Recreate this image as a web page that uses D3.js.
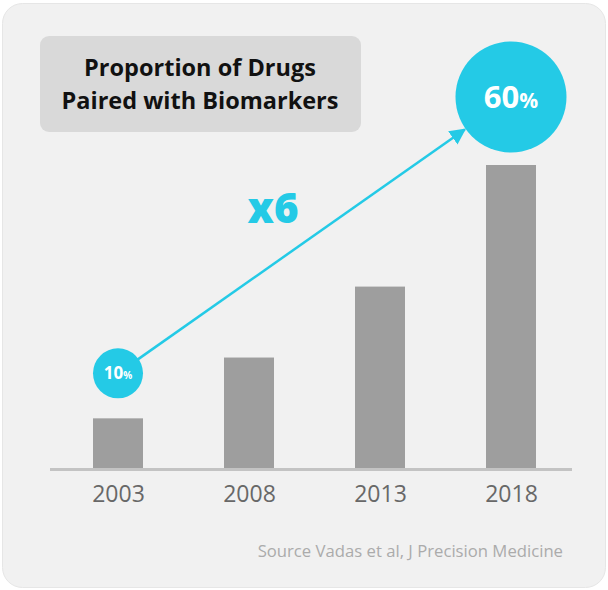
<!DOCTYPE html>
<html>
<head>
<meta charset="utf-8">
<script src="https://cdn.jsdelivr.net/npm/d3@7"></script>
<style>
  html, body { margin: 0; padding: 0; background: #ffffff; }
  svg { display: block; }
  text { font-family: "Open Sans", Lato, sans-serif; }
</style>
</head>
<body>
<svg id="chart" width="608" height="590"></svg>
<script>
// Share of approved drugs paired with a biomarker, by year
const years = ["2003", "2008", "2013", "2018"];
const shares = [10, 22, 36, 60];
const titleLines = ["Proportion of Drugs", "Paired with Biomarkers"];
const growthLabel = "x6";
const sourceNote = "Source Vadas et al, J Precision Medicine";

const cyan = "#24cae6";
const svg = d3.select("#chart");

// card background
svg.append("rect")
  .attr("x", 2.5).attr("y", 3.5)
  .attr("width", 603).attr("height", 584)
  .attr("rx", 20)
  .attr("fill", "#f1f1f1")
  .attr("stroke", "#e6e6e6")
  .attr("stroke-width", 1);

// scales
const x = d3.scalePoint().domain(years).range([52.5, 576.5]).padding(0.5);
const y = d3.scaleLinear().domain([0, 60]).range([469, 165]);
const barW = 50;

// bars
svg.append("g").selectAll("rect")
  .data(years)
  .join("rect")
  .attr("x", d => x(d) - barW / 2)
  .attr("y", (d, i) => y(shares[i]))
  .attr("width", barW)
  .attr("height", (d, i) => y(0) - y(shares[i]))
  .attr("fill", "#9e9e9e");

// baseline
svg.append("line")
  .attr("x1", 50).attr("x2", 572)
  .attr("y1", y(0) + 0.5).attr("y2", y(0) + 0.5)
  .attr("stroke", "#c3c3c3")
  .attr("stroke-width", 3);

// year labels
const axis = d3.axisBottom(x).tickSize(0).tickPadding(0);
const axisG = svg.append("g")
  .attr("transform", `translate(0,${y(0)})`)
  .call(axis);
axisG.select(".domain").remove();
axisG.selectAll("text")
  .attr("dy", null)
  .attr("y", 33)
  .attr("fill", "#686868")
  .style("font-family", "'Open Sans', sans-serif")
  .style("font-size", "23px");

// title box
svg.append("rect")
  .attr("x", 40).attr("y", 36)
  .attr("width", 321).attr("height", 96)
  .attr("rx", 9)
  .attr("fill", "#d9d9d9");
svg.append("g").selectAll("text")
  .data(titleLines)
  .join("text")
  .attr("x", 200)
  .attr("y", (d, i) => 76 + i * 33)
  .attr("text-anchor", "middle")
  .attr("fill", "#111111")
  .style("font-weight", "700")
  .style("font-size", "23.5px")
  .text(d => d);

// first and last values, highlighted in circles
const first = 0, last = years.length - 1;
const small = { cx: x(years[first]), cy: y(shares[first]) - 45, r: 25 };
const big = { cx: x(years[last]), cy: y(shares[last]) - 68, r: 55.5 };

// growth arrow between the two circles
const defs = svg.append("defs");
defs.append("marker")
  .attr("id", "arrowhead")
  .attr("viewBox", "0 0 10 10")
  .attr("refX", 9).attr("refY", 5)
  .attr("markerWidth", 6.5).attr("markerHeight", 6.5)
  .attr("markerUnits", "strokeWidth")
  .attr("orient", "auto")
  .append("path")
  .attr("d", "M0,0 L10,5 L0,10 z")
  .attr("fill", cyan);

const ang = Math.atan2(big.cy - small.cy, big.cx - small.cx);
svg.append("line")
  .attr("x1", small.cx + Math.cos(ang) * (small.r - 2))
  .attr("y1", small.cy + Math.sin(ang) * (small.r - 2))
  .attr("x2", big.cx - Math.cos(ang) * (big.r + 1))
  .attr("y2", big.cy - Math.sin(ang) * (big.r + 1))
  .attr("stroke", cyan)
  .attr("stroke-width", 2.5)
  .attr("marker-end", "url(#arrowhead)");

svg.append("circle")
  .attr("cx", small.cx).attr("cy", small.cy).attr("r", small.r)
  .attr("fill", cyan);
svg.append("circle")
  .attr("cx", big.cx).attr("cy", big.cy).attr("r", big.r)
  .attr("fill", cyan);

const smallLbl = svg.append("text")
  .attr("x", small.cx).attr("y", small.cy + 6)
  .attr("text-anchor", "middle")
  .attr("fill", "#ffffff")
  .style("font-weight", "700");
smallLbl.append("tspan").style("font-size", "17px").text(shares[first]);
smallLbl.append("tspan").style("font-size", "10px").text("%");

const bigLbl = svg.append("text")
  .attr("x", big.cx).attr("y", big.cy + 11)
  .attr("text-anchor", "middle")
  .attr("fill", "#ffffff")
  .style("font-weight", "700");
bigLbl.append("tspan").style("font-size", "31px").text(shares[last]);
bigLbl.append("tspan").style("font-size", "21px").text("%");

// growth factor
svg.append("text")
  .attr("x", 273).attr("y", 223)
  .attr("text-anchor", "middle")
  .attr("fill", cyan)
  .style("font-weight", "800")
  .style("font-size", "42px")
  .text(growthLabel);

// source note
svg.append("text")
  .attr("x", 563).attr("y", 557)
  .attr("text-anchor", "end")
  .attr("fill", "#ababab")
  .style("font-size", "16.7px")
  .text(sourceNote);
</script>
</body>
</html>
